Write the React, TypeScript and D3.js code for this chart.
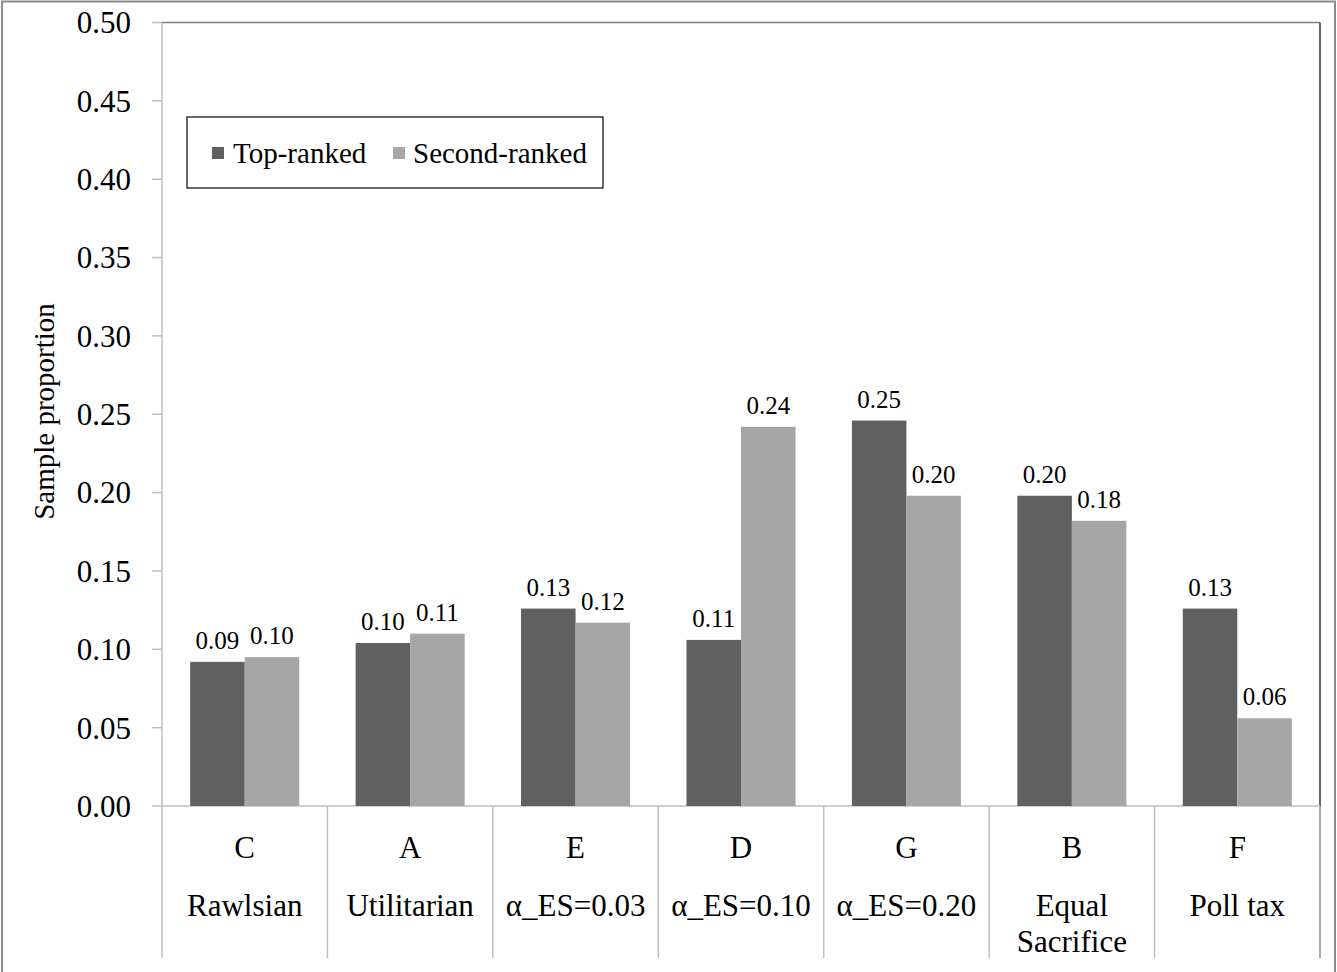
import React from "react";
import * as d3 from "d3";

const codes = ["C", "A", "E", "D", "G", "B", "F"];
const names = [["Rawlsian"], ["Utilitarian"], ["α_ES=0.03"], ["α_ES=0.10"], ["α_ES=0.20"], ["Equal", "Sacrifice"], ["Poll tax"]];
const topRanked = [0.092, 0.104, 0.126, 0.106, 0.246, 0.198, 0.126];
const secondRanked = [0.095, 0.11, 0.117, 0.242, 0.198, 0.182, 0.056];
const series = ["Top-ranked", "Second-ranked"];
const yTicks = [0, 0.05, 0.1, 0.15, 0.2, 0.25, 0.3, 0.35, 0.4, 0.45, 0.5];

const W = 1337;
const H = 972;
const left = 162;
const right = 1320;
const top = 22.5;
const bottom = 806;
const font = "'Liberation Serif', serif";
const colors = ["#606060", "#a6a6a6"];

export default function App() {
  const x = d3.scaleBand<string>().domain(codes).range([left, right]).paddingInner(0).paddingOuter(0);
  const inner = d3.scaleBand<string>().domain(series).range([0, x.bandwidth()]).paddingOuter(0.517).paddingInner(0);
  const y = d3.scaleLinear().domain([0, 0.5]).range([bottom, top]);
  const data = [topRanked, secondRanked];

  return (
    <svg width={W} height={H} style={{ position: "absolute", left: 0, top: 0 }} fontFamily={font}>
      <rect x={2} y={1.5} width={W - 4} height={H + 10} fill="#fff" stroke="#8c8c8c" strokeWidth={2} />
      {/* plot frame */}
      <line x1={left} x2={right} y1={top} y2={top} stroke="#7f7f7f" strokeWidth={1.5} />
      <line x1={right} x2={right} y1={top} y2={958} stroke="#333" strokeWidth={1.5} />
      <line x1={left} x2={left} y1={top} y2={958} stroke="#bfbfbf" strokeWidth={1.5} />
      <line x1={left} x2={right} y1={bottom} y2={bottom} stroke="#bfbfbf" strokeWidth={1.5} />
      {yTicks.map((t) => (
        <g key={t}>
          <line x1={152} x2={left} y1={y(t)} y2={y(t)} stroke="#bfbfbf" strokeWidth={1.5} />
          <text x={131} y={y(t)} dy="0.35em" textAnchor="end" fontSize={31} fill="#000">
            {t.toFixed(2)}
          </text>
        </g>
      ))}
      {codes.map((c) => (
        <line key={c} x1={(x(c) as number) + x.bandwidth()} x2={(x(c) as number) + x.bandwidth()} y1={bottom} y2={958}
          stroke="#bfbfbf" strokeWidth={1.5} />
      ))}
      {data.map((vals, s) =>
        codes.map((c, i) => {
          const bx = (x(c) as number) + (inner(series[s]) as number);
          return (
            <g key={c + s}>
              <rect x={bx} y={y(vals[i])} width={inner.bandwidth()} height={bottom - y(vals[i])} fill={colors[s]} />
              <text x={bx + inner.bandwidth() / 2} y={y(vals[i]) - 13} textAnchor="middle" fontSize={25} fill="#000">
                {vals[i].toFixed(2)}
              </text>
            </g>
          );
        })
      )}
      {codes.map((c, i) => {
        const cx = (x(c) as number) + x.bandwidth() / 2;
        return (
          <g key={"l" + c}>
            <text x={cx} y={847} dy="0.35em" textAnchor="middle" fontSize={31} fill="#000">{c}</text>
            {names[i].map((n, j) => (
              <text key={n} x={cx} y={905 + j * 36} dy="0.35em" textAnchor="middle" fontSize={31} fill="#000">{n}</text>
            ))}
          </g>
        );
      })}
      <text transform={`translate(54, ${(300 + 523) / 2}) rotate(-90)`} textAnchor="middle" fontSize={29} fill="#000">
        Sample proportion
      </text>
      {/* legend */}
      <rect x={187} y={117} width={416} height={71} fill="#fff" stroke="#000" strokeWidth={1.2} />
      <rect x={212} y={147} width={12} height={12} fill={colors[0]} />
      <text x={233} y={153} dy="0.35em" fontSize={29} fill="#000">{series[0]}</text>
      <rect x={393} y={147} width={12} height={12} fill={colors[1]} />
      <text x={413} y={153} dy="0.35em" fontSize={29} fill="#000">{series[1]}</text>
    </svg>
  );
}
